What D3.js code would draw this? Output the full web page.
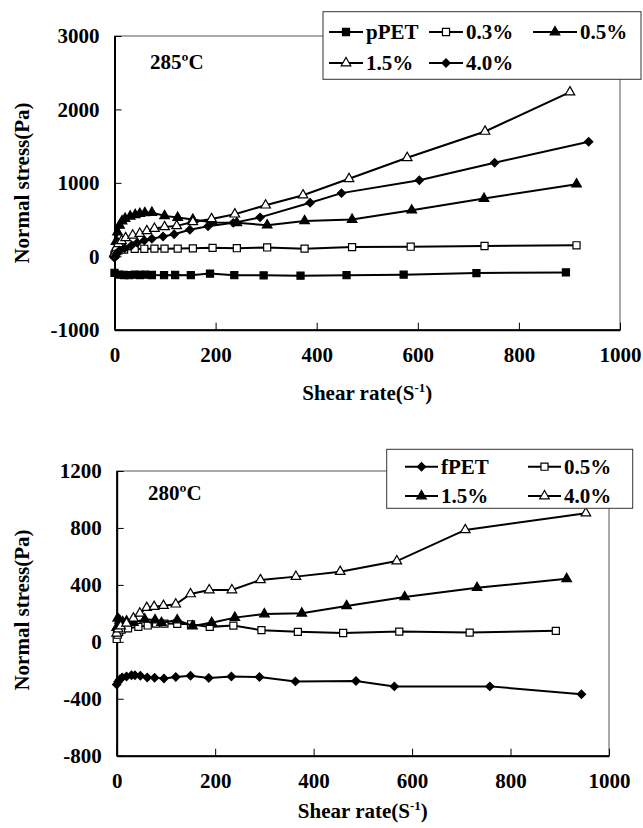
<!DOCTYPE html>
<html><head><meta charset="utf-8">
<script src="https://cdn.jsdelivr.net/npm/d3@7"></script>
<style>
body{margin:0;background:#fff}
svg{display:block}
text{font-family:"Liberation Serif","Times New Roman",serif;font-weight:bold;fill:#000}
</style>
</head><body>
<svg id="c" width="643" height="828"></svg>
<script>
// ---------- data ----------
const xTicks = [0, 200, 400, 600, 800, 1000];
const yTicksTop = [-1000, 0, 1000, 2000, 3000];
const yTicksBottom = [-800, -400, 0, 400, 800, 1200];

// 285 ºC panel
const pPET_x = [0, 9, 19, 29, 40, 50, 60, 74, 98, 120, 151, 189, 237, 295, 368, 459, 572, 716, 893];
const pPET_y = [-225, -250, -255, -258, -250, -255, -250, -255, -258, -255, -258, -236, -258, -260, -264, -258, -250, -228, -220];
const p03_x = [0, 3, 8, 19, 40, 59, 79, 99, 125, 155, 194, 242, 302, 376, 470, 586, 732, 914];
const p03_y = [20, 60, 80, 90, 100, 102, 104, 104, 105, 108, 115, 110, 120, 104, 125, 130, 140, 150];
const p05_x = [0, 3, 6, 10, 15, 21, 31, 41, 50, 60, 74, 99, 125, 155, 194, 242, 302, 376, 470, 588, 731, 914];
const p05_y = [30, 200, 330, 420, 480, 513, 544, 565, 580, 590, 595, 550, 527, 500, 460, 455, 423, 482, 500, 627, 786, 982];
const p15_x = [0, 4, 8, 14, 22, 36, 50, 64, 79, 99, 123, 155, 192, 238, 299, 373, 464, 579, 733, 901];
const p15_y = [40, 120, 170, 210, 250, 286, 309, 345, 377, 400, 414, 468, 509, 573, 695, 832, 1055, 1341, 1700, 2235];
const p40_x = [0, 3, 6, 10, 20, 34, 45, 59, 74, 96, 118, 149, 185, 235, 288, 387, 449, 603, 752, 938];
const p40_y = [-20, 20, 50, 80, 110, 150, 185, 215, 240, 270, 300, 360, 410, 455, 530, 730, 860, 1035, 1275, 1560];

// 280 ºC panel
const fPET_x = [0, 3, 6, 11, 20, 30, 37, 48, 62, 77, 96, 120, 150, 187, 233, 290, 363, 486, 564, 758, 944];
const fPET_y = [-300, -280, -265, -250, -243, -235, -235, -238, -250, -252, -257, -247, -238, -254, -243, -247, -278, -275, -313, -313, -368];
const f05_x = [0, 2, 5, 10, 23, 44, 63, 80, 97, 123, 151, 189, 237, 294, 368, 460, 574, 717, 892];
const f05_y = [20, 50, 70, 85, 95, 105, 115, 128, 128, 127, 123, 105, 114, 82, 70, 62, 72, 65, 77];
const f15_x = [0, 2, 6, 12, 20, 34, 57, 78, 91, 123, 154, 193, 240, 300, 376, 467, 585, 732, 914];
const f15_y = [100, 165, 150, 140, 145, 134, 158, 153, 134, 153, 111, 134, 170, 195, 200, 252, 315, 380, 443];
const f40_x = [0, 3, 8, 20, 34, 47, 61, 76, 95, 120, 150, 188, 234, 292, 364, 454, 569, 708, 953];
const f40_y = [60, 90, 110, 130, 165, 200, 240, 247, 254, 264, 336, 364, 364, 435, 458, 493, 567, 786, 904];

// ---------- drawing ----------
const svg = d3.select("#c");
const zip = (xs, ys) => xs.map((v, i) => [v, ys[i]]);

const shapes = {
  squareFilled: {type: d3.symbolSquare, size: 50, fill: "#000", rot: 0},
  squareOpen: {type: d3.symbolSquare, size: 50, fill: "#fff", rot: 0},
  triFilled: {type: d3.symbolTriangle, size: 40, fill: "#000", rot: 0},
  triOpen: {type: d3.symbolTriangle, size: 40, fill: "#fff", rot: 0},
  diamond: {type: d3.symbolSquare, size: 34, fill: "#000", rot: 45}
};

function drawMarker(g, cx, cy, shp) {
  const s = shapes[shp];
  g.append("path")
    .attr("d", d3.symbol().type(s.type).size(s.size)())
    .attr("transform", `translate(${cx},${cy}) rotate(${s.rot})`)
    .attr("fill", s.fill).attr("stroke", "#000").attr("stroke-width", 1.2);
}

function panel(cfg) {
  const g = svg.append("g");
  const x = d3.scaleLinear().domain([0, 1000]).range([cfg.L, cfg.R]);
  const y = d3.scaleLinear().domain(cfg.yDom).range([cfg.B, cfg.T]);

  g.append("rect").attr("x", cfg.L).attr("y", cfg.T)
    .attr("width", cfg.R - cfg.L).attr("height", cfg.B - cfg.T)
    .attr("fill", "none").attr("stroke", "#555").attr("stroke-width", 1);

  const xa = g.append("g").attr("transform", `translate(0,${cfg.B})`)
    .call(d3.axisBottom(x).tickValues(xTicks).tickSizeInner(-7).tickSizeOuter(0).tickPadding(17).tickFormat(d => d));
  const ya = g.append("g").attr("transform", `translate(${cfg.L},0)`)
    .call(d3.axisLeft(y).tickValues(cfg.yTicks).tickSizeInner(-7).tickSizeOuter(0).tickPadding(15).tickFormat(d => d));
  [xa, ya].forEach(a => {
    a.select(".domain").attr("stroke", "#000").attr("stroke-width", 2);
    a.selectAll(".tick line").attr("stroke", "#000").attr("stroke-width", 1);
    a.selectAll("text").attr("font-size", 21).attr("font-family", '"Liberation Serif",serif').attr("font-weight", "bold").attr("fill", "#000");
  });

  const xt = g.append("text").attr("x", (cfg.L + cfg.R) / 2).attr("y", cfg.xTitleY)
    .attr("text-anchor", "middle").attr("font-size", 21);
  xt.append("tspan").text("Shear rate(S");
  xt.append("tspan").attr("font-size", 13).attr("dy", -8).text("-1");
  xt.append("tspan").attr("dy", 8).text(")");
  g.append("text").attr("transform", `translate(29,${cfg.yTitleC}) rotate(-90)`)
    .attr("text-anchor", "middle").attr("font-size", 21).text("Normal stress(Pa)");
  g.append("text").attr("x", cfg.tempX).attr("y", cfg.tempY).attr("font-size", 21).text(cfg.temp);

  const line = d3.line().x(d => x(d[0])).y(d => y(d[1]));
  cfg.series.forEach(s => {
    const pts = zip(s.xs, s.ys);
    g.append("path").datum(pts).attr("d", line)
      .attr("fill", "none").attr("stroke", "#000").attr("stroke-width", 2);
    pts.forEach(p => drawMarker(g, x(p[0]), y(p[1]), s.shape));
  });

  const lg = cfg.legend;
  g.append("rect").attr("x", lg.x0).attr("y", lg.y0).attr("width", lg.x1 - lg.x0).attr("height", lg.y1 - lg.y0)
    .attr("fill", "#fff").attr("stroke", "#333").attr("stroke-width", 1);
  lg.items.forEach((it, i) => {
    const s = cfg.series[i];
    const ry = lg.rows[it.row];
    g.append("line").attr("x1", it.l0).attr("x2", it.l1).attr("y1", ry).attr("y2", ry)
      .attr("stroke", "#000").attr("stroke-width", 2);
    drawMarker(g, (it.l0 + it.l1) / 2, ry, s.shape);
    g.append("text").attr("x", it.l1 + 3).attr("y", ry).attr("dy", "0.34em")
      .attr("font-size", 21).text(s.name);
  });
}

panel({
  L: 114.5, R: 620, T: 36, B: 329.7, yDom: [-1000, 3000], yTicks: yTicksTop,
  xTitleY: 400, yTitleC: 183, temp: "285ºC", tempX: 150, tempY: 69,
  series: [
    {name: "pPET", xs: pPET_x, ys: pPET_y, shape: "squareFilled"},
    {name: "0.3%", xs: p03_x, ys: p03_y, shape: "squareOpen"},
    {name: "0.5%", xs: p05_x, ys: p05_y, shape: "triFilled"},
    {name: "1.5%", xs: p15_x, ys: p15_y, shape: "triOpen"},
    {name: "4.0%", xs: p40_x, ys: p40_y, shape: "diamond"}
  ],
  legend: {x0: 323, x1: 641, y0: 11.7, y1: 79.3, rows: [32, 63],
    items: [
      {row: 0, l0: 329, l1: 363}, {row: 0, l0: 429, l1: 463}, {row: 0, l0: 533, l1: 577},
      {row: 1, l0: 329, l1: 363}, {row: 1, l0: 429, l1: 463}
    ]}
});

panel({
  L: 116.7, R: 609, T: 471, B: 755.7, yDom: [-800, 1200], yTicks: yTicksBottom,
  xTitleY: 818, yTitleC: 610, temp: "280ºC", tempX: 148, tempY: 500,
  series: [
    {name: "fPET", xs: fPET_x, ys: fPET_y, shape: "diamond"},
    {name: "0.5%", xs: f05_x, ys: f05_y, shape: "squareOpen"},
    {name: "1.5%", xs: f15_x, ys: f15_y, shape: "triFilled"},
    {name: "4.0%", xs: f40_x, ys: f40_y, shape: "triOpen"}
  ],
  legend: {x0: 386.7, x1: 632.7, y0: 449.3, y1: 508.3, rows: [466.7, 496],
    items: [
      {row: 0, l0: 405, l1: 438}, {row: 0, l0: 528, l1: 561},
      {row: 1, l0: 405, l1: 438}, {row: 1, l0: 528, l1: 561}
    ]}
});
</script>
</body></html>
